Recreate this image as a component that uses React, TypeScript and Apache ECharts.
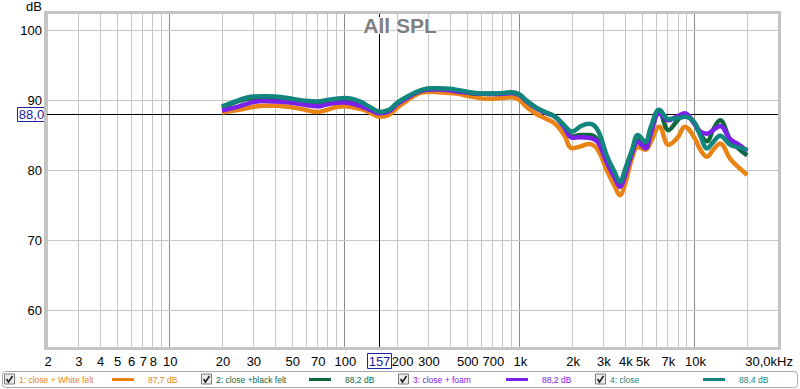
import React, { useEffect, useRef } from "react";
import * as echarts from "echarts";

// ---------- data ----------
const freqs = [20, 25, 30, 35, 40, 50, 60, 70, 80, 90, 100, 110, 125, 140, 160, 180, 200, 225, 250, 280, 315, 350, 400, 450, 500, 560, 630, 710, 800, 900, 1000, 1100, 1250, 1400, 1600, 1800, 2000, 2250, 2500, 2800, 3150, 3500, 3750, 4000, 4400, 4750, 5250, 5600, 6300, 7100, 8000, 8800, 10000, 10800, 11800, 12800, 14000, 16000, 18000, 20000];

const whiteFelt = [88.2, 88.6, 89.0, 89.2, 89.2, 88.95, 88.6, 88.3, 88.6, 89.0, 89.1, 89.0, 88.7, 88.2, 87.6, 87.9, 88.9, 89.8, 90.6, 91.1, 91.2, 91.1, 91.0, 90.9, 90.6, 90.4, 90.2, 90.2, 90.3, 90.4, 90.0, 89.0, 88.0, 87.4, 86.6, 85.0, 83.1, 83.4, 83.7, 82.9, 80.0, 77.7, 76.4, 77.9, 81.7, 83.3, 82.9, 83.9, 86.2, 83.6, 84.6, 86.2, 84.6, 82.9, 81.9, 82.9, 83.8, 81.6, 80.3, 79.3];
const blackFelt = [88.9, 89.9, 90.3, 90.35, 90.3, 90.0, 89.7, 89.6, 89.8, 90.0, 90.1, 90.0, 89.5, 88.8, 88.2, 88.5, 89.5, 90.3, 90.9, 91.4, 91.6, 91.6, 91.5, 91.3, 91.1, 90.9, 90.9, 90.9, 90.95, 91.05, 90.75, 89.85, 88.85, 88.25, 87.6, 86.3, 84.8, 85.0, 85.0, 84.3, 81.4, 79.1, 78.0, 79.4, 82.6, 84.3, 83.6, 85.3, 88.3, 85.7, 87.1, 88.0, 86.6, 85.1, 84.1, 85.8, 87.1, 84.3, 83.0, 82.1];
const foam = [88.5, 89.1, 89.7, 89.85, 89.8, 89.6, 89.3, 89.1, 89.4, 89.6, 89.65, 89.5, 89.1, 88.6, 88.1, 88.4, 89.4, 90.2, 90.9, 91.4, 91.5, 91.5, 91.4, 91.2, 91.1, 90.95, 90.9, 90.85, 90.9, 91.0, 90.7, 89.8, 88.8, 88.2, 87.6, 86.1, 84.6, 84.7, 84.6, 84.0, 81.1, 78.9, 77.6, 79.1, 82.4, 84.0, 83.1, 85.0, 88.1, 87.1, 87.7, 88.1, 86.6, 85.5, 85.2, 85.7, 86.3, 84.4, 83.6, 82.7];
const closeOnly = [89.1, 90.0, 90.5, 90.55, 90.5, 90.2, 89.9, 89.8, 90.0, 90.2, 90.3, 90.2, 89.7, 89.0, 88.3, 88.6, 89.6, 90.4, 91.0, 91.5, 91.7, 91.65, 91.6, 91.4, 91.2, 91.0, 90.95, 90.95, 91.0, 91.1, 90.8, 89.9, 88.9, 88.3, 87.6, 86.4, 85.5, 86.3, 86.6, 85.7, 82.1, 79.7, 78.3, 80.0, 82.9, 85.0, 84.0, 86.0, 88.6, 87.3, 87.4, 87.6, 86.8, 84.9, 83.1, 84.0, 84.9, 83.6, 83.2, 82.9];

const seriesNames = ["1: close + White felt", "2: close +black felt", "3: close + foam", "4: close"];
const seriesLevels = ["87,7 dB", "88,2 dB", "88,2 dB", "88,4 dB"];
const seriesValues = [whiteFelt, blackFelt, foam, closeOnly];
const seriesColors = ["#E98313", "#10693C", "#7A20E8", "#13857F"];

const xGridValues = [2, 3, 4, 5, 6, 7, 8, 9, 10, 20, 30, 40, 50, 60, 70, 80, 90, 100, 200, 300, 400, 500, 600, 700, 800, 900, 1000, 2000, 3000, 4000, 5000, 6000, 7000, 8000, 9000, 10000, 20000];
const xMajorValues = [10, 100, 1000, 10000];
const xLabelValues = [2, 3, 4, 5, 6, 7, 8, 10, 20, 30, 50, 70, 100, 200, 300, 500, 700, 1000, 2000, 3000, 4000, 5000, 7000, 10000, 30000];
const xLabelTexts = ["2", "3", "4", "5", "6", "7", "8", "10", "20", "30", "50", "70", "100", "200", "300", "500", "700", "1k", "2k", "3k", "4k", "5k", "7k", "10k", "30,0kHz"];
const yTickValues = [60, 70, 80, 90, 100];
const cursorFreq = 157;
const cursorLevel = 88.0;
const cursorFreqText = "157";
const cursorLevelText = "88,0";

const X_MIN = 2;
const X_MAX = 30000;
const Y_MIN = 54.7;
const Y_MAX = 102.3;

// ---------- layout ----------
const GRID = { left: 47, top: 14, width: 731, height: 333 };
const FONT = "Liberation Sans, Arial, sans-serif";
const CURSOR_BLUE = "#1E22A8";

function txt(text: string, x: number, y: number, opts: any = {}) {
  const align = opts.align || "center";
  const va = opts.va || "middle";
  return {
    type: "text",
    x,
    y,
    style: {
      text,
      x: 0,
      y: 0,
      fill: opts.fill || "#000",
      font: opts.font || `13px ${FONT}`,
      align,
      verticalAlign: va,
      textAlign: align,
      textVerticalAlign: va,
      stroke: opts.stroke,
      lineWidth: opts.lineWidth,
    },
  };
}

function buildLegend() {
  const els: any[] = [];
  els.push({
    type: "rect",
    shape: { x: 2.5, y: 371.5, width: 795, height: 16, r: 3 },
    style: { fill: "#fff", stroke: "#a8a8a8", lineWidth: 1 },
    z: 10,
  });
  seriesNames.forEach((name, i) => {
    const bx = 2 + i * 197;
    const cy = 379.5;
    els.push({
      type: "rect",
      shape: { x: bx + 2.5, y: cy - 5.5, width: 10, height: 10 },
      style: { fill: "#ececec", stroke: "#7a7a7a", lineWidth: 1 },
      z: 11,
    });
    els.push({
      type: "polyline",
      shape: { points: [[bx + 4.5, cy - 0.5], [bx + 6.5, cy + 2.5], [bx + 10.5, cy - 3.5]] },
      style: { stroke: "#222", lineWidth: 1.6, fill: null },
      z: 12,
    });
    els.push({ ...txt(name, bx + 17, cy, { align: "left", fill: seriesColors[i], font: `8.5px ${FONT}` }), z: 12 });
    els.push({
      type: "line",
      shape: { x1: bx + 110, y1: cy, x2: bx + 132, y2: cy },
      style: { stroke: seriesColors[i], lineWidth: 3 },
      z: 12,
    });
    els.push({ ...txt(seriesLevels[i], bx + 146, cy, { align: "left", fill: seriesColors[i], font: `8.5px ${FONT}` }), z: 12 });
  });
  return els;
}

export default function App() {
  const ref = useRef<HTMLDivElement>(null);
  useEffect(() => {
    if (!ref.current) return;
    const chart = echarts.init(ref.current, null, { renderer: "svg" });

    const lineSeries = seriesValues.map((vals, i) => ({
      type: "line",
      name: seriesNames[i],
      data: freqs.map((f, j) => [f, vals[j]]),
      smooth: 0.4,
      symbol: "none",
      lineStyle: { color: seriesColors[i], width: 4.5 },
      itemStyle: { color: seriesColors[i] },
      z: 3 + i * 0.01,
      silent: true,
    }));

    const option: any = {
      animation: false,
      backgroundColor: "#fff",
      grid: { ...GRID, outerBoundsMode: "none", containLabel: false },
      xAxis: {
        type: "log",
        logBase: 10,
        min: X_MIN,
        max: X_MAX,
        axisLine: { show: false },
        axisTick: { show: false },
        axisLabel: { show: false },
        splitLine: { show: false },
        minorTick: { show: false },
      },
      yAxis: {
        type: "value",
        min: Y_MIN,
        max: Y_MAX,
        axisLine: { show: false },
        axisTick: { show: false },
        axisLabel: { show: false },
        splitLine: { show: false },
      },
      series: [
        // vertical gridlines
        {
          type: "custom",
          silent: true,
          z: 1,
          clip: false,
          data: xGridValues.map((v) => [v, Y_MIN]),
          renderItem: (params: any, api: any) => {
            const cs = params.coordSys;
            const v = api.value(0);
            const p = api.coord([v, Y_MIN]);
            const x = Math.round(p[0]) + 0.5;
            const major = xMajorValues.indexOf(v) >= 0;
            return {
              type: "line",
              shape: { x1: x, y1: cs.y, x2: x, y2: cs.y + cs.height },
              style: { stroke: major ? "#8c8c8c" : "#c6c6c6", lineWidth: 1 },
            };
          },
        },
        // horizontal gridlines + y labels
        {
          type: "custom",
          silent: true,
          z: 1,
          clip: false,
          data: yTickValues.map((v) => [X_MIN, v]),
          renderItem: (params: any, api: any) => {
            const cs = params.coordSys;
            const v = api.value(1);
            const p = api.coord([X_MIN, v]);
            const y = Math.round(p[1]) + 0.5;
            return {
              type: "group",
              children: [
                {
                  type: "line",
                  shape: { x1: cs.x, y1: y, x2: cs.x + cs.width, y2: y },
                  style: { stroke: "#c6c6c6", lineWidth: 1 },
                },
                txt(String(v), cs.x - 5, y, { align: "right" }),
              ],
            };
          },
        },
        // cursor lines
        {
          type: "custom",
          silent: true,
          z: 2,
          clip: false,
          data: [[cursorFreq, cursorLevel]],
          renderItem: (params: any, api: any) => {
            const cs = params.coordSys;
            const p = api.coord([api.value(0), api.value(1)]);
            const x = Math.round(p[0]) + 0.5;
            const y = Math.round(p[1]) + 0.5;
            return {
              type: "group",
              children: [
                { type: "line", shape: { x1: x, y1: cs.y, x2: x, y2: cs.y + cs.height }, style: { stroke: "#000", lineWidth: 1 } },
                { type: "line", shape: { x1: cs.x, y1: y, x2: cs.x + cs.width, y2: y }, style: { stroke: "#000", lineWidth: 1 } },
              ],
            };
          },
        },
        ...lineSeries,
        // x labels
        {
          type: "custom",
          silent: true,
          z: 4,
          clip: false,
          data: xLabelValues.map((v) => [v, Y_MIN]),
          renderItem: (params: any, api: any) => {
            const cs = params.coordSys;
            const p = api.coord([api.value(0), Y_MIN]);
            const cx = api.coord([cursorFreq, Y_MIN])[0];
            const i = params.dataIndex;
            const last = i === xLabelValues.length - 1;
            let x = last ? p[0] + 15 : p[0] + 1;
            // a label partly hidden by the cursor box is pushed just past it
            if (!last && Math.abs(p[0] - cx) < 26 && p[0] > cx) x = cx + 24;
            return txt(xLabelTexts[i], x, cs.y + cs.height + 14, { align: last ? "right" : "center" });
          },
        },
        // cursor boxes
        {
          type: "custom",
          silent: true,
          z: 5,
          clip: false,
          data: [[cursorFreq, cursorLevel]],
          renderItem: (params: any, api: any) => {
            const cs = params.coordSys;
            const p = api.coord([api.value(0), api.value(1)]);
            const x = Math.round(p[0]);
            const y = Math.round(p[1]);
            return {
              type: "group",
              children: [
                { type: "rect", shape: { x: cs.x - 29.5, y: y - 6.5, width: 28, height: 14 }, style: { fill: "#fff", stroke: CURSOR_BLUE, lineWidth: 1 } },
                txt(cursorLevelText, cs.x - 15.5, y + 0.5, { fill: CURSOR_BLUE }),
                { type: "rect", shape: { x: x - 11.5, y: cs.y + cs.height + 6.5, width: 24, height: 15 }, style: { fill: "#fff", stroke: CURSOR_BLUE, lineWidth: 1 } },
                txt(cursorFreqText, x + 0.5, cs.y + cs.height + 14.5, { fill: CURSOR_BLUE }),
              ],
            };
          },
        },
      ],
      graphic: [
        {
          type: "rect",
          shape: { x: GRID.left - 1.5, y: GRID.top - 1.5, width: GRID.width + 3, height: GRID.height + 3 },
          style: { fill: null, stroke: "#c4c4c4", lineWidth: 3 },
          z: 6,
          silent: true,
        },
        { ...txt("All SPL", 400, 25, { font: `bold 21px ${FONT}`, fill: "#7f7f7f", stroke: "#fff", lineWidth: 2 }), z: 6 },
        { ...txt("dB", 34, 6, {}), z: 6 },
        ...buildLegend(),
      ],
    };

    chart.setOption(option);
    return () => chart.dispose();
  }, []);
  return <div ref={ref} style={{ position: "fixed", left: 0, top: 0, width: 800, height: 389 }} />;
}
